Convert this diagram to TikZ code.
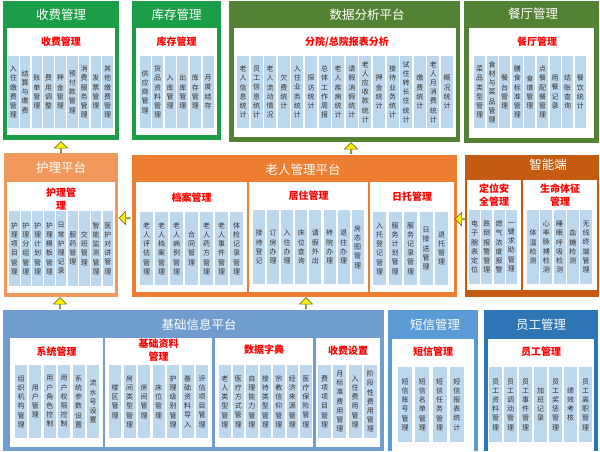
\documentclass[tikz,border=0pt]{standalone}
\usepackage{fontspec}
\setmainfont{Noto Sans CJK SC}
\usetikzlibrary{shapes.arrows}
\definecolor{gA}{RGB}{28,157,72}
\definecolor{gB}{RGB}{84,130,53}
\definecolor{oA}{RGB}{241,152,92}
\definecolor{oB}{RGB}{237,125,49}
\definecolor{oC}{RGB}{197,90,17}
\definecolor{bA}{RGB}{112,157,205}
\definecolor{bB}{RGB}{91,155,213}
\definecolor{bC}{RGB}{46,117,182}
\definecolor{colc}{RGB}{189,215,238}
\definecolor{txtc}{RGB}{50,50,50}
\definecolor{redc}{RGB}{255,0,0}
\definecolor{arrowc}{RGB}{110,110,40}
\def\vtE{}
\def\vtA#1{\ifx\vtE#1\else\hbox{#1}\expandafter\vtA\fi}
\newcommand\vt[1]{\vbox{\baselineskip=9.2pt\lineskiplimit=-10pt\expandafter\vtA#1\vtE}}
\newcommand\cols[7]{\foreach \ct [count=\ci from 0] in {#7}{\node[colbox,minimum width=#4pt,minimum height=#6pt-#5pt] (#1\ci) at ({#2+\ci*#3+#4/2},{(#5+#6)/2}) {\expandafter\vt\expandafter{\ct}};}}
\newcommand\panel[5]{\fill[#5] (#1,#2) rectangle (#3,#4);}
\newcommand\wbox[4]{\fill[white] (#1,#2) rectangle (#3,#4);}
\tikzset{
  colbox/.style={rectangle,fill=colc,inner sep=0pt,text=txtc,font=\fontsize{7}{9.2}\selectfont},
  hdr/.style={text=white,inner sep=0pt,font=\fontsize{12.5}{15}\selectfont},
  rt/.style={text=redc,inner sep=0pt,align=center,font=\fontsize{10}{13.5}\selectfont\bfseries},
  yarr/.style={single arrow,fill=yellow,draw=arrowc,line width=0.6pt,inner sep=0pt,single arrow head extend=2.5pt,minimum width=13pt,minimum height=11pt}
}
\begin{document}
\begin{tikzpicture}[x=1pt,y=-1pt]
\path[use as bounding box,fill=white] (0,0) rectangle (600,451);
% ---------- top row ----------
\panel{3}{1}{119}{140}{gA}
\wbox{7}{28}{115}{135}
\node[hdr] (h1) at (61,15) {收费管理};
\node[rt] (r1) at (61,42) {收费管理};
\cols{sf}{8}{11.8}{10.5}{56}{128}{入住缴费管理,结算与缴费,账单管理,费用调整,押金管理,预付款管理,消费服务管理,发票管理,其他缴费管理}

\panel{132}{1}{221}{140}{gA}
\wbox{136}{28}{217}{135}
\node[hdr] (h2) at (176.5,15) {库存管理};
\node[rt] (r2) at (176.5,42) {库存管理};
\cols{kc}{139.5}{12.6}{11}{56}{128}{供应商管理,货品资料管理,入库管理,出库管理,库存管理,月度结存}

\panel{229}{1}{460}{142}{gB}
\wbox{234}{28}{456}{137}
\node[hdr] (h3) at (367,15) {数据分析平台};
\node[rt] (r3) at (347,42) {分院/总院报表分析};
\cols{sj}{237}{13.6}{12}{56}{128}{老人信息统计,员工信息统计,老人流动情况,欠费统计,入住业务统计,探访统计,总体工作周报,老人疾病统计,请假消假统计,老人应收款统计,押金统计,接待业务统计,试住转长住统计,缴费统计,老人月消费统计,概况统计}

\panel{464}{1}{599}{143}{gB}
\wbox{469}{28}{594}{138}
\node[hdr] (h4) at (533,14) {餐厅管理};
\node[rt] (r4) at (537,42) {餐厅管理};
\cols{ct}{474}{12.6}{11}{56}{128}{菜品类型管理,食材与菜品管理,餐台管理,膳食标准管理,食谱管理,点餐配餐管理,用餐记录,结账查询,餐饮统计}

% ---------- middle row ----------
\panel{4}{153}{118}{297}{oA}
\wbox{7}{182}{115}{293}
\node[hdr] (h5) at (61,168) {护理平台};
\node[rt] (r5) at (61,199) {护理管\\理};
\cols{hl}{9}{11.7}{10.5}{211}{286}{护理项目管理,护理分组管理,护理计划管理,护理模板管理,日常护理记录,服药管理,交班管理,智能监测管理,医护对讲管理}

\panel{132}{155}{457}{297}{oB}
\wbox{136}{182}{247}{292}
\wbox{249}{182}{368}{292}
\wbox{370}{182}{454}{292}
\node[hdr] (h6) at (303,170) {老人管理平台};
\node[rt] (r6a) at (191.5,198) {档案管理};
\node[rt] (r6b) at (308.5,196) {居住管理};
\node[rt] (r6c) at (412,197) {日托管理};
\cols{da}{140}{15}{13}{212}{285}{老人评估管理,老人档案管理,老人病例管理,合同管理,老人药方管理,老人事件管理,体检记录管理}
\cols{jz}{253}{14.1}{12}{210}{284}{接待登记,订房办理,入住办理,床位查询,请假外出,转院办理,退住办理,房态图管理}
\cols{rtg}{373}{15.5}{13}{212}{285}{入托登记管理,服务计划管理,服务记录管理,日接送管理,退托管理}

\panel{465}{155}{599}{297}{oC}
\wbox{467}{180}{521}{290}
\wbox{523}{180}{597}{290}
\node[hdr] (h7) at (548,165) {智能端};
\node[rt] (r7a) at (494,195) {定位安\\全管理};
\node[rt] (r7b) at (560,195) {生命体征\\管理};
\cols{dw}{469}{12.3}{11}{210}{284}{电子腕表定位,跌倒报警管理,燃气浓度报警,一键求助管理}
\cols{sm}{527}{13.3}{12}{210}{284}{体温检测,心率脉搏检测,睡眠呼吸检测,血糖检测,无线终端管理}

% ---------- bottom row ----------
\panel{3}{310}{384}{451}{bA}
\wbox{10}{338}{103}{447}
\wbox{105}{338}{212}{447}
\wbox{215}{338}{313}{447}
\wbox{316}{338}{380}{447}
\node[hdr] (h8) at (199,325) {基础信息平台};
\node[rt] (r8a) at (56.5,352) {系统管理};
\node[rt] (r8b) at (158.5,350) {基础资料\\管理};
\node[rt] (r8c) at (264,350) {数据字典};
\node[rt] (r8d) at (348,351) {收费设置};
\cols{xt}{15}{14.4}{12}{365}{438}{组织机构管理,用户管理,用户角色控制,用户权限控制,系统参数设置,流水号设置}
\cols{jc}{109}{14.5}{12}{365}{438}{楼区管理,房间类型管理,房间管理,床位管理,护理级别管理,基础资料导入,评估项目管理}
\cols{zd}{219}{13.5}{11.5}{365}{438}{老人类型管理,医疗方式管理,自理能力管理,接待类型管理,宗教信仰管理,经济来源管理,医疗保险管理}
\cols{sz}{318}{15.3}{13}{365}{438}{费项项目管理,月标准费用管理,入住费用管理,阶段性费用管理}

\panel{388}{310}{478}{451}{bB}
\wbox{392}{339}{474}{451}
\node[hdr] (h9) at (435,325) {短信管理};
\node[rt] (r9) at (433,352) {短信管理};
\cols{dx}{398}{17.3}{14}{367}{442}{短信账号管理,短信名单管理,短信任务管理,短信报表统计}

\panel{484}{310}{598}{451}{bC}
\wbox{488}{339}{594}{451}
\node[hdr] (h10) at (541,325) {员工管理};
\node[rt] (r10) at (541,352) {员工管理};
\cols{yg}{489}{15}{13}{367}{442}{员工资料管理,员工调动管理,员工事件管理,加班记录,员工奖惩管理,绩效考核,员工离职管理}

% ---------- arrows ----------
\node[yarr,shape border rotate=90] (a1) at (61,147.5) {};
\node[yarr,shape border rotate=90] (a2) at (351,148.5) {};
\node[yarr,shape border rotate=180] (a3) at (125,218) {};
\node[yarr,shape border rotate=180] (a4) at (461,219) {};
\node[yarr,shape border rotate=90] (a5) at (60,303.5) {};
\node[yarr,shape border rotate=90] (a6) at (306,303.5) {};
\end{tikzpicture}
\end{document}
